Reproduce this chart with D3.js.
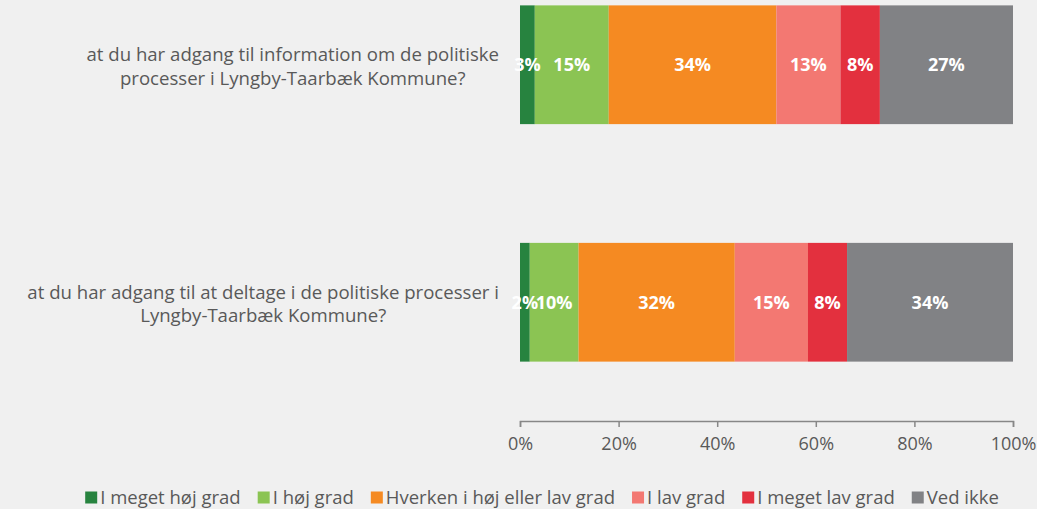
<!DOCTYPE html>
<html>
<head>
<meta charset="utf-8">
<script src="https://cdn.jsdelivr.net/npm/d3@7"></script>
<style>
  html, body { margin: 0; padding: 0; background: #f0f0f0; }
  svg { display: block; font-family: "Open Sans", "Noto Sans", sans-serif; }
</style>
</head>
<body>
<svg id="chart" width="1037" height="509"></svg>
<script>
// Survey questions (each label split into its two printed lines)
const questions = [
  ["at du har adgang til information om de politiske", "processer i Lyngby-Taarbæk Kommune?"],
  ["at du har adgang til at deltage i de politiske processer i", "Lyngby-Taarbæk Kommune?"]
];
// Answer categories, in stacking order
const categories = ["I meget høj grad", "I høj grad", "Hverken i høj eller lav grad", "I lav grad", "I meget lav grad", "Ved ikke"];
const colors = ["#27833f", "#8bc453", "#f58a22", "#f37872", "#e3303e", "#818285"];
// Share of answers (%) per question, same order as categories
const valuesQ1 = [3, 15, 34, 13, 8, 27];
const valuesQ2 = [2, 10, 32, 15, 8, 34];
const tickValues = [0, 20, 40, 60, 80, 100];

const seriesValues = [valuesQ1, valuesQ2];

const svg = d3.select("#chart");

const x = d3.scaleLinear().domain([0, 100]).range([520, 1013]);
const y = d3.scaleBand().domain(d3.range(questions.length))
  .range([-54, 421]).paddingInner(0.5).paddingOuter(0.25);

// Stacked segments; each row is normalised to its own total so rounded shares fill 0–100 %
const rows = seriesValues.map((vals, qi) => {
  const total = d3.sum(vals);
  let cum = 0;
  return vals.map((v, ci) => {
    const s = cum / total * 100;
    cum += v;
    return { qi, ci, v, x0: s, x1: cum / total * 100 };
  });
});

const bars = svg.append("g");
rows.forEach(row => {
  const g = bars.append("g");
  g.selectAll("rect").data(row).join("rect")
    .attr("x", d => x(d.x0))
    .attr("y", d => y(d.qi))
    .attr("width", d => x(d.x1) - x(d.x0))
    .attr("height", y.bandwidth())
    .attr("fill", d => colors[d.ci]);
  g.selectAll("text").data(row).join("text")
    .attr("x", d => (x(d.x0) + x(d.x1)) / 2)
    .attr("y", d => y(d.qi) + y.bandwidth() / 2)
    .attr("dy", "0.35em")
    .attr("text-anchor", "middle")
    .attr("fill", "#ffffff")
    .attr("font-weight", "bold")
    .attr("font-size", 18)
    .text(d => d.v + "%");
});

// Question labels: block right-aligned to the plot, lines centred within the block
questions.forEach((lines, qi) => {
  const cy = y(qi) + y.bandwidth() / 2;
  const t = svg.append("text")
    .attr("fill", "#595959")
    .attr("font-size", 18.6)
    .attr("text-anchor", "middle");
  const spans = lines.map((ln, li) => t.append("tspan")
    .attr("y", cy - 3.5 + li * 23.5)
    .text(ln));
  const maxW = d3.max(spans, s => s.node().getComputedTextLength());
  spans.forEach(s => s.attr("x", 499 - maxW / 2));
});

// Percentage axis
const axis = svg.append("g")
  .attr("transform", "translate(0,421)")
  .call(d3.axisBottom(x).tickValues(tickValues).tickSize(6).tickFormat(d => d + "%"));
axis.selectAll("path, line").attr("stroke", "#878787").attr("stroke-width", 1.5);
axis.selectAll("text")
  .attr("fill", "#595959")
  .attr("font-size", 18)
  .attr("font-family", "\"Open Sans\", sans-serif")
  .attr("y", 13)
  .attr("dy", "0.9em");

// Legend, centred under the chart
const legend = svg.append("g").attr("font-size", 18.5).attr("fill", "#595959");
const items = categories.map((c, i) => {
  const g = legend.append("g");
  g.append("rect").attr("x", 0).attr("y", -6).attr("width", 12).attr("height", 12).attr("fill", colors[i]);
  const tx = g.append("text").attr("x", 15).attr("y", 6.5).text(c);
  return { g, w: 15 + tx.node().getComputedTextLength() };
});
const gap = 17;
const totalW = d3.sum(items, d => d.w) + gap * (items.length - 1);
let lx = 542 - totalW / 2;
items.forEach(it => {
  it.g.attr("transform", `translate(${lx},497.5)`);
  lx += it.w + gap;
});
</script>
</body>
</html>
